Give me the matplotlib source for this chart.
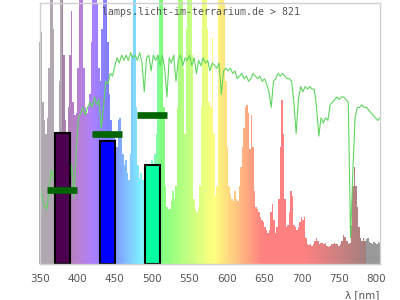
import numpy as np
import matplotlib.pyplot as plt

# lamp spectrum, relative intensity every 2 nm from 350 to 800 nm (values > 1 run off the top)
spec_wl = np.arange(350, 801, 2)
spectrum = [
    0.85, 0.89, 0.62, 0.55, 0.50, 0.56, 0.75, 1.20, 1.20, 0.90,
    0.50, 0.45, 0.50, 0.70, 1.20, 1.20, 0.80, 0.55, 0.50, 0.60,
    0.80, 0.97, 0.62, 0.57, 0.58, 0.75, 1.20, 1.20, 1.20, 0.75,
    0.60, 0.58, 0.60, 0.65, 0.85, 1.20, 1.20, 1.20, 1.00, 0.75,
    0.70, 0.90, 1.20, 1.20, 1.20, 0.85, 0.65, 0.55, 0.50, 0.50,
    0.48, 0.45, 0.55, 0.56, 0.50, 0.42, 0.38, 0.40, 0.35, 0.32,
    0.42, 0.80, 1.20, 1.20, 0.60, 0.38, 0.33, 0.35, 0.32, 0.33,
    0.35, 0.38, 0.35, 0.38, 0.40, 0.38, 0.42, 0.50, 0.80, 1.20,
    1.20, 1.20, 0.60, 0.30, 0.22, 0.21, 0.21, 0.24, 0.28, 0.25,
    0.30, 0.60, 1.20, 1.20, 1.20, 0.75, 0.50, 0.90, 1.20, 1.20,
    1.20, 0.80, 0.25, 0.21, 0.20, 0.22, 0.30, 0.60, 1.20, 1.20,
    1.20, 0.90, 0.62, 0.60, 0.87, 0.50, 0.26, 0.30, 1.20, 1.20,
    1.20, 1.20, 1.00, 0.70, 0.45, 0.30, 0.27, 0.25, 0.24, 0.28,
    0.25, 0.24, 0.30, 0.37, 0.45, 0.52, 0.60, 0.61, 0.58, 0.44,
    0.57, 0.45, 0.28, 0.22, 0.21, 0.20, 0.18, 0.17, 0.16, 0.14,
    0.13, 0.12, 0.13, 0.20, 0.23, 0.17, 0.12, 0.14, 0.25, 0.45,
    0.63, 0.50, 0.25, 0.14, 0.15, 0.20, 0.28, 0.26, 0.15, 0.14,
    0.13, 0.14, 0.16, 0.18, 0.17, 0.18, 0.10, 0.075, 0.073, 0.075,
    0.07, 0.075, 0.09, 0.10, 0.09, 0.075, 0.08, 0.08, 0.078, 0.08,
    0.07, 0.065, 0.07, 0.077, 0.077, 0.08, 0.077, 0.075, 0.07, 0.077,
    0.09, 0.11, 0.105, 0.09, 0.075, 0.08, 0.15, 0.30, 0.37, 0.30,
    0.22, 0.14, 0.10, 0.09, 0.10, 0.09, 0.095, 0.10, 0.085, 0.08,
    0.075, 0.085, 0.08, 0.075, 0.085, 0.08,
]

# daylight reference curve, every 3 nm from 350 to 800 nm
sun_wl = np.arange(350, 801, 3)
sunlight = [
    0.30, 0.25, 0.22, 0.21, 0.28, 0.36, 0.33, 0.30, 0.34, 0.30,
    0.35, 0.28, 0.33, 0.30, 0.38, 0.25, 0.44, 0.56, 0.58, 0.60,
    0.57, 0.60, 0.62, 0.60, 0.64, 0.61, 0.63, 0.52, 0.60, 0.70,
    0.69, 0.73, 0.72, 0.76, 0.79, 0.77, 0.80, 0.78, 0.80, 0.78,
    0.81, 0.79, 0.80, 0.78, 0.81, 0.77, 0.66, 0.79, 0.80, 0.74,
    0.80, 0.78, 0.80, 0.76, 0.80, 0.75, 0.64, 0.79, 0.77, 0.80,
    0.70, 0.78, 0.80, 0.76, 0.79, 0.78, 0.80, 0.76, 0.79, 0.73,
    0.78, 0.76, 0.79, 0.77, 0.78, 0.74, 0.77, 0.76, 0.75, 0.77,
    0.65, 0.74, 0.75, 0.74, 0.75, 0.73, 0.74, 0.71, 0.72, 0.73,
    0.71, 0.72, 0.70, 0.71, 0.73, 0.72, 0.71, 0.72, 0.70, 0.71,
    0.69, 0.66, 0.60, 0.70, 0.71, 0.73, 0.72, 0.73, 0.72, 0.71,
    0.71, 0.70, 0.62, 0.50, 0.63, 0.68, 0.66, 0.68, 0.67, 0.68,
    0.67, 0.67, 0.60, 0.49, 0.56, 0.54, 0.56, 0.55, 0.61, 0.62,
    0.63, 0.64, 0.63, 0.64, 0.64, 0.63, 0.62, 0.10, 0.35, 0.56,
    0.60, 0.60, 0.61, 0.60, 0.60, 0.59, 0.58, 0.57, 0.56, 0.55,
    0.56,
]

# measured bands (nm) and their target markers
band_lo = [370, 430, 490]
band_hi = [390, 450, 510]
band_val = [0.50, 0.47, 0.38]
band_colors = ['#4d004f', '#0000ff', '#00ffa0']
mark_lo = [360, 420, 480]
mark_hi = [400, 460, 520]
mark_val = [0.285, 0.497, 0.570]

tick_nm = [350, 400, 450, 500, 550, 600, 650, 700, 750, 800]


def wl_color(w):
    # pastel rainbow colour for a wavelength
    if w < 380:
        return '#b0a8b0'
    if w > 780:
        return '#999999'
    if w < 440:
        r, g, b = (440 - w) / 60, 0, 1
    elif w < 490:
        r, g, b = 0, (w - 440) / 50, 1
    elif w < 510:
        r, g, b = 0, 1, (510 - w) / 20
    elif w < 580:
        r, g, b = (w - 510) / 70, 1, 0
    elif w < 645:
        r, g, b = 1, (645 - w) / 65, 0
    else:
        r, g, b = 1, 0, 0
    if w < 420:
        f = 0.3 + 0.7 * (w - 380) / 40
    elif w > 700:
        f = 0.3 + 0.7 * (780 - w) / 80
    else:
        f = 1
    return tuple(0.5 + 0.5 * f * c for c in (r, g, b))


fig = plt.figure(figsize=(4, 3), dpi=100)
ax = fig.add_axes([0.1, 0.12, 0.85, 0.87])

ax.bar(spec_wl, spectrum, width=2, color=[wl_color(w) for w in spec_wl],
       linewidth=0, antialiased=False, clip_on=False)
ax.plot(sun_wl, sunlight, color='#5fd65f', lw=0.8)
ax.set_xlim(350, 800)
ax.set_ylim(0, 1)
ax.set_xticks([])
ax.set_yticks([])
for s in ax.spines.values():
    s.set_visible(False)

# overlay axes for bands, markers and ticks
ax2 = ax.twiny()
ax2.set_xlim(350, 805)
ax2.hlines(mark_val, mark_lo, mark_hi, colors='#006400', lw=4.8, capstyle='butt')
for lo, hi, v, c in zip(band_lo, band_hi, band_val, band_colors):
    ax2.bar(lo, v, width=hi - lo, align='edge', color=c, edgecolor='black', lw=1.5)
ax2.xaxis.set_ticks_position('bottom')
ax2.set_xticks(tick_nm)
ax2.tick_params(axis='x', length=0, pad=7, labelsize=7.5, labelcolor='#555555')
for s in ax2.spines.values():
    s.set_color('#d0d0d0')
    s.set_linewidth(1)
    s.set_zorder(5)

fig.text(0.5025, 1 - 11.7 / 300, 'lamps.licht-im-terrarium.de > 821', family='DejaVu Sans Mono',
         fontsize=7.1, color='#555555', ha='center', va='center')
fig.text(379 / 400, 1 - 295 / 300, 'λ [nm]', fontsize=7.5, color='#555555', ha='right', va='center')

fig.savefig('out.png', dpi=100)
